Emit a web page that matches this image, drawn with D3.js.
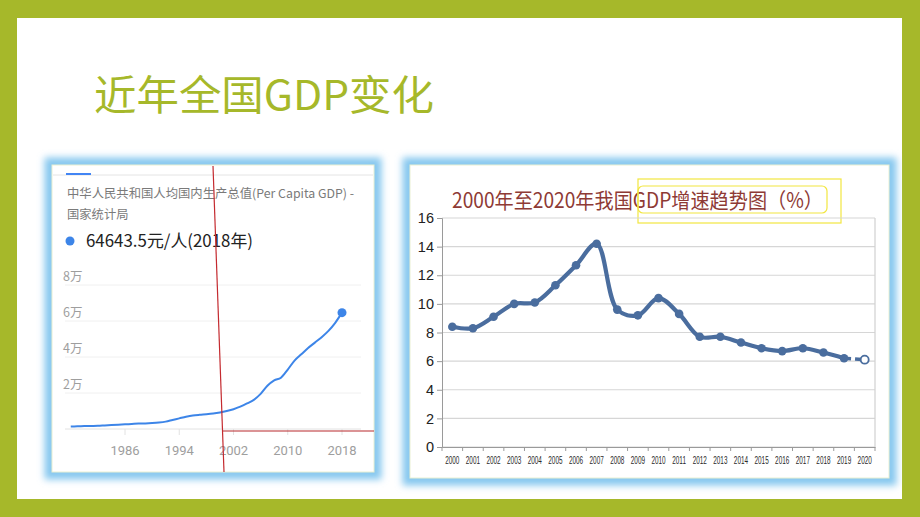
<!DOCTYPE html>
<html><head><meta charset="utf-8">
<script src="https://cdn.jsdelivr.net/npm/d3@7"></script>
<style>body{margin:0;background:#fff}svg{display:block}</style>
</head><body><svg id="c" width="920" height="517"></svg>
<script>
// ---------- DATA ----------
const slideTitle = "近年全国GDP变化";

// Left: per-capita GDP (yuan)
const pcTitle1 = "中华人民共和国人均国内生产总值(Per Capita GDP) -";
const pcTitle2 = "国家统计局";
const pcHighlight = "64643.5元/人(2018年)";
const pcYears = [1978,1979,1980,1981,1982,1983,1984,1985,1986,1987,1988,1989,1990,1991,1992,1993,1994,1995,1996,1997,1998,1999,2000,2001,2002,2003,2004,2005,2006,2007,2008,2009,2010,2011,2012,2013,2014,2015,2016,2017,2018];
const pcValues = [1400,1500,1600,1700,1800,2000,2200,2400,2600,2800,3000,3100,3300,3600,4100,5000,5900,6800,7500,7900,8200,8600,9200,10000,11000,12400,14200,16200,19500,24000,27000,28500,33000,38000,41500,45000,48000,51000,54500,59000,64643.5];
const pcYTicks = [0,20000,40000,60000,80000];
const pcYTickLabels = ["","2万","4万","6万","8万"];
const pcXTicks = [1986,1994,2002,2010,2018];

// Right: GDP growth rate (%)
const grTitle = "2000年至2020年我国GDP增速趋势图（%）";
const grYears = ["2000","2001","2002","2003","2004","2005","2006","2007","2008","2009","2010","2011","2012","2013","2014","2015","2016","2017","2018","2019","2020"];
const grValues = [8.4,8.3,9.1,10.0,10.1,11.3,12.7,14.2,9.6,9.2,10.4,9.3,7.7,7.7,7.3,6.9,6.7,6.9,6.6,6.2,6.1];
const grYTicks = [0,2,4,6,8,10,12,14,16];

// ---------- DRAW ----------
const svg = d3.select("#c");
const CJK = "'Noto Sans CJK SC','Noto Sans',sans-serif";

// slide frame
svg.append("rect").attr("width",920).attr("height",517).attr("fill","#A6B82A");
svg.append("rect").attr("x",17).attr("y",18).attr("width",885).attr("height",481).attr("fill","#fff");

// title
svg.append("text").attr("x",94).attr("y",110).attr("font-family",CJK).attr("font-size",41)
  .attr("fill","#A6B82A").attr("textLength",340).attr("lengthAdjust","spacingAndGlyphs").text(slideTitle);

// glow filter
const defs = svg.append("defs");
const f = defs.append("filter").attr("id","glow").attr("x","-10%").attr("y","-10%").attr("width","120%").attr("height","120%");
f.append("feGaussianBlur").attr("stdDeviation",3.5);

function panel(x0,y0,x1,y1){
  svg.append("rect").attr("x",x0-1).attr("y",y0-1).attr("width",x1-x0+2).attr("height",y1-y0+2)
    .attr("fill","none").attr("stroke","#86C8EF").attr("stroke-width",13).attr("filter","url(#glow)");
  svg.append("rect").attr("x",x0).attr("y",y0).attr("width",x1-x0).attr("height",y1-y0)
    .attr("fill","#fff").attr("stroke","#E9F0D2").attr("stroke-width",1);
}
panel(52,165,374,472);
panel(410,165,889,478);

// ----- left chart -----
svg.append("line").attr("x1",53).attr("x2",373).attr("y1",175).attr("y2",175).attr("stroke","#E4E4E4");
svg.append("line").attr("x1",66).attr("x2",91).attr("y1",174).attr("y2",174).attr("stroke","#4285F4").attr("stroke-width",2);
svg.append("text").attr("x",67).attr("y",198).attr("font-family",CJK).attr("font-size",12.3)
  .attr("fill","#7A7A7A").attr("textLength",287).attr("lengthAdjust","spacingAndGlyphs").text(pcTitle1);
svg.append("text").attr("x",67).attr("y",219).attr("font-family",CJK).attr("font-size",12.3)
  .attr("fill","#7A7A7A").text(pcTitle2);
svg.append("circle").attr("cx",70).attr("cy",241).attr("r",4.5).attr("fill","#3D85E8");
svg.append("text").attr("x",86).attr("y",247).attr("font-family",CJK).attr("font-size",17)
  .attr("fill","#222").attr("textLength",167).attr("lengthAdjust","spacingAndGlyphs").text(pcHighlight);

const px = d3.scaleLinear().domain([1986,2018]).range([125,342]);
const py = d3.scaleLinear().domain([0,80000]).range([429,285]);
svg.append("g").selectAll("line").data(pcYTicks).join("line")
  .attr("x1",65).attr("x2",361).attr("y1",d=>py(d)).attr("y2",d=>py(d))
  .attr("stroke",d=>d===0?"#E2E2E2":"#F0F0F0").attr("stroke-width",1);
svg.append("g").selectAll("text").data(pcYTicks).join("text")
  .attr("x",63).attr("y",d=>py(d)-4).attr("font-family",CJK).attr("font-size",12.5).attr("fill","#9E9E9E")
  .text((d,i)=>pcYTickLabels[i]);
svg.append("g").selectAll("line").data(pcXTicks).join("line")
  .attr("x1",d=>px(d)).attr("x2",d=>px(d)).attr("y1",429).attr("y2",435).attr("stroke","#E2E2E2");
svg.append("g").selectAll("text").data(pcXTicks).join("text")
  .attr("x",d=>px(d)).attr("y",455).attr("text-anchor","middle").attr("font-family","Roboto,sans-serif")
  .attr("font-size",13).attr("fill","#9E9E9E").text(d=>d);
const pcLine = d3.line().x((d,i)=>px(pcYears[i])).y(d=>py(d)).curve(d3.curveMonotoneX);
svg.append("path").attr("d",pcLine(pcValues)).attr("fill","none").attr("stroke","#3D85E8").attr("stroke-width",2);
svg.append("circle").attr("cx",px(pcYears[pcYears.length-1])).attr("cy",py(pcValues[pcValues.length-1]))
  .attr("r",4.5).attr("fill","#3D85E8");

// red annotation lines
svg.append("line").attr("x1",213).attr("y1",166).attr("x2",224).attr("y2",472).attr("stroke","#C42A2F").attr("stroke-width",1.2);
svg.append("line").attr("x1",223).attr("y1",431).attr("x2",374).attr("y2",431).attr("stroke","#B8282D").attr("stroke-width",1.2);

// ----- right chart -----
svg.append("text").attr("x",452).attr("y",208).attr("font-family",CJK).attr("font-size",21)
  .attr("fill","#8E3A35").attr("textLength",371).attr("lengthAdjust","spacingAndGlyphs").text(grTitle);
svg.append("rect").attr("x",638).attr("y",179).attr("width",203).attr("height",44).attr("fill","none").attr("stroke","#F2E640").attr("stroke-width",1.2);
svg.append("rect").attr("x",638).attr("y",186).attr("width",189).attr("height",27).attr("rx",5).attr("fill","none").attr("stroke","#F2E640").attr("stroke-width",1.2);

const gx = d3.scaleBand().domain(grYears).range([442,875]);
const gy = d3.scaleLinear().domain([0,16]).range([447,218]);
svg.append("g").selectAll("line").data(grYTicks).join("line")
  .attr("x1",442).attr("x2",875).attr("y1",d=>gy(d)).attr("y2",d=>gy(d)).attr("stroke","#D6D6D6").attr("stroke-width",1.2);
svg.append("line").attr("x1",875).attr("x2",875).attr("y1",218).attr("y2",447).attr("stroke","#D0D0D0").attr("stroke-width",1.2);
const yAxis = svg.append("g").attr("transform","translate(442,0)")
  .call(d3.axisLeft(gy).tickValues(grYTicks).tickSize(5).tickPadding(3));
yAxis.select(".domain").attr("stroke","#9A9A9A");
yAxis.selectAll(".tick line").attr("stroke","#9A9A9A");
yAxis.selectAll("text").attr("font-family","'Liberation Sans',Arial,sans-serif").attr("font-size",14.5).attr("fill","#222");
const xAxis = svg.append("g").attr("transform","translate(0,447)")
  .call(d3.axisBottom(gx).tickSize(0).tickFormat(""));
xAxis.select(".domain").attr("stroke","#9A9A9A");
const cx = d => gx(d)+gx.bandwidth()/2;
svg.append("g").selectAll("text").data(grYears).join("text")
  .attr("transform",d=>`translate(${cx(d)},464) scale(0.8,1.3)`)
  .attr("text-anchor","middle").attr("font-family","'Liberation Sans',Arial,sans-serif").attr("font-size",8)
  .attr("fill","#2A2A2A").text(d=>d);
// band boundary ticks
svg.append("g").selectAll("line").data(grYears.concat(["end"])).join("line")
  .attr("x1",(d,i)=>442+i*gx.step()).attr("x2",(d,i)=>442+i*gx.step()).attr("y1",447).attr("y2",451)
  .attr("stroke","#9A9A9A");

const solidYears = grYears.slice(0,20), solidVals = grValues.slice(0,20);
const gLine = d3.line().x((d,i)=>cx(solidYears[i])).y(d=>gy(d)).curve(d3.curveCatmullRom.alpha(0.5));
const lineColor = "#4A6D9E";
svg.append("path").attr("d",gLine(solidVals)).attr("fill","none").attr("stroke",lineColor).attr("stroke-width",4.2)
  .attr("stroke-linejoin","round");
svg.append("line").attr("x1",cx("2019")).attr("y1",gy(grValues[19])).attr("x2",cx("2020")).attr("y2",gy(grValues[20]))
  .attr("stroke",lineColor).attr("stroke-width",3.5).attr("stroke-dasharray","7,4");
svg.append("g").selectAll("circle").data(solidVals).join("circle")
  .attr("cx",(d,i)=>cx(solidYears[i])).attr("cy",d=>gy(d)).attr("r",4.3).attr("fill",lineColor);
svg.append("circle").attr("cx",cx("2020")).attr("cy",gy(grValues[20])).attr("r",4)
  .attr("fill","#fff").attr("stroke",lineColor).attr("stroke-width",1.8);
</script></body></html>
